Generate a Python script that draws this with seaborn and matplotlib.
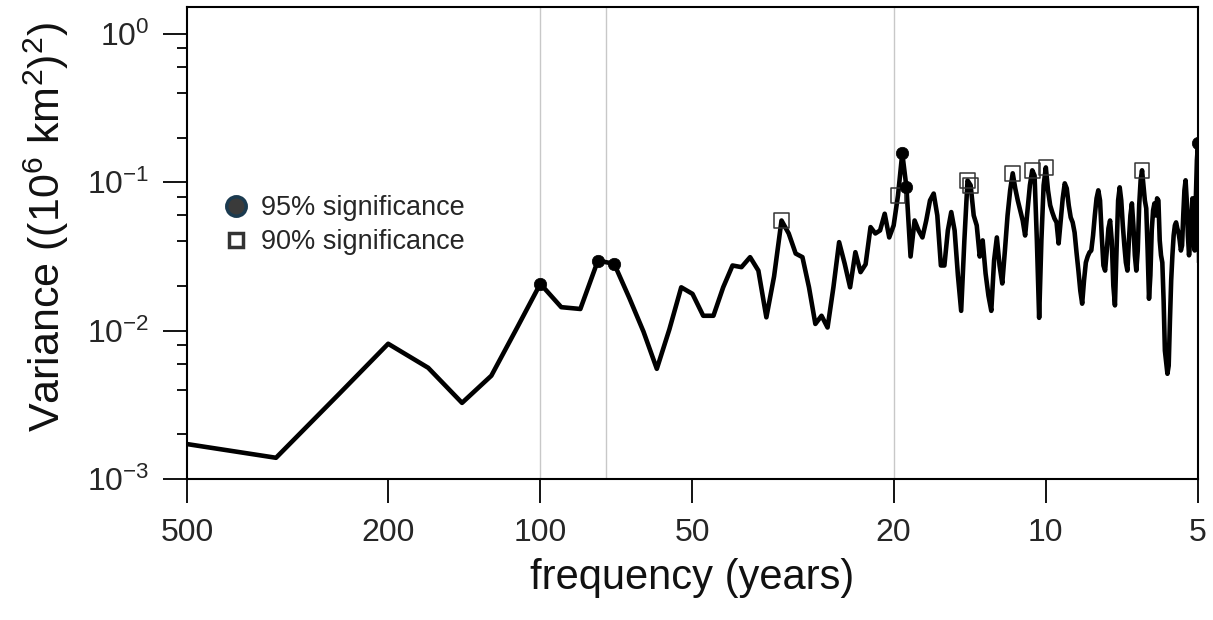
import numpy as np
import pandas as pd
import matplotlib
matplotlib.use("Agg")
import matplotlib.pyplot as plt
from matplotlib.lines import Line2D
from matplotlib.ticker import FixedLocator, NullLocator, FixedFormatter, NullFormatter
import seaborn as sns

# ---------------- data ----------------
# spectral harmonics of a 1000-year record: period = 1000 / harmonic
harmonic = np.arange(2, 202)
period_years = 1000.0 / harmonic

variance = [
    0.00172, 0.00139, 0.00375, 0.00816, 0.00562, 0.00326, 0.00497, 0.0105,
    0.0207, 0.0144, 0.0140, 0.0297, 0.0282, 0.0166, 0.00984, 0.00553, 0.0102, 0.0196,
    0.0177, 0.0126, 0.0126, 0.0196, 0.0275, 0.0268, 0.0313, 0.0254, 0.0123, 0.0232,
    0.0553, 0.0452, 0.0331, 0.0313, 0.0196, 0.0111, 0.0126, 0.0105, 0.0196, 0.0395,
    0.0283, 0.0196, 0.0338, 0.0248, 0.0280, 0.0499, 0.0452, 0.0474, 0.0614, 0.0425,
    0.0512, 0.0816, 0.157, 0.0925, 0.0316, 0.0553, 0.0474, 0.0425, 0.0553, 0.0755,
    0.0840, 0.0598, 0.0275, 0.0275, 0.0474, 0.0630, 0.0474, 0.0236, 0.0136, 0.0406,
    0.103, 0.0955, 0.0598, 0.0512, 0.0316, 0.0406, 0.0243, 0.0172, 0.0136, 0.0297,
    0.0425, 0.0275, 0.0208, 0.0347, 0.0598, 0.0883, 0.115, 0.091, 0.0755, 0.0647,
    0.0553, 0.0438, 0.0647, 0.0955, 0.1205, 0.111, 0.0406, 0.0122, 0.0406, 0.0955,
    0.126, 0.0883, 0.070, 0.0627, 0.0571, 0.0537, 0.0387, 0.0553, 0.078, 0.0984,
    0.091, 0.070, 0.058, 0.0537, 0.0459, 0.0337, 0.0254, 0.0186, 0.0152, 0.0218,
    0.0288, 0.0316, 0.0337, 0.0347, 0.0438, 0.0598, 0.078, 0.0883, 0.0755, 0.0438,
    0.0275, 0.0254, 0.0347, 0.0489, 0.0553, 0.0406, 0.0201, 0.0148, 0.0347, 0.0755,
    0.0925, 0.0755, 0.0512, 0.0375, 0.0288, 0.0254, 0.0406, 0.0598, 0.0721, 0.0512,
    0.0322, 0.0254, 0.0347, 0.070, 0.1032, 0.1205, 0.0955, 0.0755, 0.0667, 0.0347,
    0.0164, 0.0236, 0.0474, 0.0647, 0.0721, 0.0598, 0.078, 0.0755, 0.0406, 0.0322,
    0.0288, 0.0160, 0.00733, 0.00608, 0.00512, 0.0058, 0.01168, 0.0218, 0.0322, 0.0438,
    0.0512, 0.0537, 0.0489, 0.0459, 0.0406, 0.0347, 0.0375, 0.0598, 0.0883, 0.1032,
    0.0755, 0.0438, 0.0322, 0.0406, 0.0598, 0.078, 0.0598, 0.0347, 0.0755, 0.141,
    0.183, 0.0288,
]
assert len(variance) == len(harmonic)

sig95_harmonics = [10, 13, 14, 52, 53, 200]
sig90_harmonics = [30, 51, 70, 71, 86, 94, 100, 155]

ref_periods = [100, 74, 20]
x_ticks = [500, 200, 100, 50, 20, 10, 5]
x_tick_labels = ["500", "200", "100", "50", "20", "10", "5"]
y_ticks = [1e-3, 1e-2, 1e-1, 1e0]
y_tick_labels = ["10$^{-3}$", "10$^{-2}$", "10$^{-1}$", "10$^{0}$"]
y_minor = [m * 10.0 ** e for e in (-3, -2, -1) for m in (2, 4, 6, 8)]

legend_labels = ["95% significance", "90% significance"]
x_label = "frequency (years)"
y_label = "Variance ((10$^6$ km$^2$)$^2$)"

# ---------------- tables ----------------
spec = pd.DataFrame({"period": period_years, "variance": variance, "k": harmonic})
s95 = spec[spec["k"].isin(sig95_harmonics)]
s90 = spec[spec["k"].isin(sig90_harmonics)]

# ---------------- style ----------------
sns.set_theme(style="white")
plt.rcParams["font.family"] = ["Liberation Sans", "DejaVu Sans"]
plt.rcParams["mathtext.default"] = "regular"

fig = plt.figure(figsize=(12.13, 6.20), dpi=100)
ax = fig.add_axes([187 / 1213, 1 - 479 / 620, 1011 / 1213, 472 / 620])

for p in ref_periods:
    ax.axvline(p, color="#c8c8c8", lw=1.0, zorder=0)

sns.lineplot(data=spec, x="period", y="variance", ax=ax, color="black",
             linewidth=3.3, estimator=None, sort=False, zorder=3)
sns.scatterplot(data=s90, x="period", y="variance", ax=ax, marker="s", s=110,
                facecolor="none", edgecolor="#333333", linewidth=1.1, zorder=4)
sns.scatterplot(data=s95, x="period", y="variance", ax=ax, marker="o", s=80,
                color="black", edgecolor="black", linewidth=0.5, zorder=5)

ax.set_xscale("log")
ax.set_yscale("log")
ax.set_xlim(500, 5)
ax.set_ylim(1e-3, 1.52)

ax.xaxis.set_major_locator(FixedLocator(x_ticks))
ax.xaxis.set_major_formatter(FixedFormatter(x_tick_labels))
ax.xaxis.set_minor_locator(NullLocator())
ax.yaxis.set_major_locator(FixedLocator(y_ticks))
ax.yaxis.set_major_formatter(FixedFormatter(y_tick_labels))
ax.yaxis.set_minor_locator(FixedLocator(y_minor))
ax.yaxis.set_minor_formatter(NullFormatter())

ax.tick_params(axis="x", which="major", direction="out", length=17, width=1.3,
               color="black", labelsize=23, pad=11, bottom=True, top=False)
ax.tick_params(axis="y", which="major", direction="out", length=17, width=1.3,
               color="black", labelsize=23, pad=10, left=True, right=False)
ax.tick_params(axis="y", which="minor", direction="out", length=7, width=1.3,
               color="black", left=True, right=False)

for sp in ax.spines.values():
    sp.set_visible(True)
    sp.set_color("black")
    sp.set_linewidth(1.5)

ax.set_xlabel(x_label, fontsize=30, color="#111111")
ax.set_ylabel(y_label, fontsize=31, color="#111111")
ax.xaxis.set_label_coords(0.5, -0.168)
ax.yaxis.set_label_coords(-0.115, 0.535)

handles = [
    Line2D([], [], ls="none", marker="o", markersize=14, markerfacecolor="#3a3a3a",
           markeredgecolor="#1b3a4f", markeredgewidth=2.5),
    Line2D([], [], ls="none", marker="s", markersize=10, markerfacecolor="white",
           markeredgecolor="#333333", markeredgewidth=2.5),
]
ax.legend(handles, legend_labels, loc="upper left", frameon=False, fontsize=19.5,
          bbox_to_anchor=(224 / 1213, 1 - 195 / 620), bbox_transform=fig.transFigure,
          borderpad=0, borderaxespad=0, handlelength=0.9, handletextpad=0.45,
          labelspacing=0.3)

fig.savefig("out.png", dpi=100, facecolor="white")
